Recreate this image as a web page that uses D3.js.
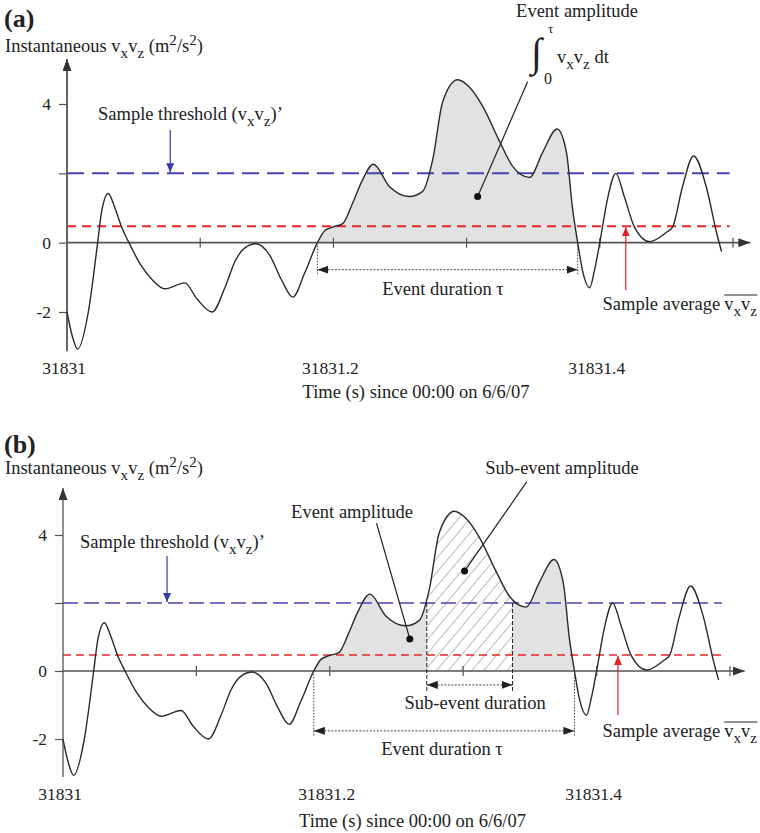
<!DOCTYPE html>
<html>
<head>
<meta charset="utf-8">
<script src="https://cdn.jsdelivr.net/npm/d3@7"></script>
<style>
    body { margin: 0; background: #fff; }
    svg text { font-family: "Liberation Serif", "Times New Roman", serif; fill: #222; }
</style>
</head>
<body>
<svg id="chart" width="760" height="833"></svg>
<script>
// ---- data (seconds after 31831 s, instantaneous vx*vz in m2/s2) ----
const timeBase = 31831;
const seconds = [0.000, 0.004, 0.008, 0.016, 0.023, 0.026, 0.031, 0.036, 0.041, 0.0465,
    0.055, 0.064, 0.0735, 0.0885, 0.0975, 0.109, 0.1185, 0.126, 0.1335, 0.1418,
    0.152, 0.161, 0.1695, 0.1785, 0.188, 0.1936, 0.1995, 0.207, 0.214, 0.221,
    0.230, 0.242, 0.257, 0.267, 0.2746, 0.282, 0.2933, 0.302, 0.312, 0.325,
    0.3346, 0.3473, 0.357, 0.368, 0.375, 0.3796, 0.3834, 0.387, 0.3924, 0.396,
    0.400, 0.406, 0.412, 0.4186, 0.426, 0.4374, 0.450, 0.4546, 0.462, 0.4704,
    0.480, 0.4876, 0.4914];
const flux = [-2.0, -2.7, -3.07, -2.0, 0.0, 0.9, 1.42, 1.0, 0.45, 0.0,
    -0.62, -1.07, -1.33, -1.16, -1.62, -2.0, -1.3, -0.55, -0.15, -0.03,
    -0.35, -1.07, -1.57, -0.87, 0.0, 0.35, 0.45, 0.55, 1.1, 1.74,
    2.26, 1.62, 1.33, 1.48, 2.4, 4.06, 4.7, 4.49, 3.94, 2.9,
    2.2, 1.88, 2.6, 3.28, 2.6, 0.96, 0.0, -0.8, -1.3, -0.8,
    0.0, 1.3, 2.0, 1.3, 0.45, 0.03, 0.3, 0.45, 1.6, 2.5,
    1.6, 0.3, -0.26];

const threshold = 2.0;
const sampleAverage = 0.47;
const eventSpan = [0.188, 0.3834];
const subEventSpan = [0.2727, 0.337];

const yTicks = [-2, 0, 2, 4];
const yTickLabels = ["-2", "0", "", "4"];
const xTicks = [0.1, 0.2, 0.3, 0.4, 0.5];
const xLabelTicks = [0, 0.2, 0.4];
const xLabelText = ["31831", "31831.2", "31831.4"];

const data = seconds.map((s, i) => ({t: s, v: flux[i]}));

const fs = 18.5; // annotation font size

// ---- layout ----
const panels = [
    {
        key: "a", label: "(a)", labelY: 27, titleY: 52,
        x: d3.scaleLinear().domain([0, 0.5]).range([67, 733]),
        y: d3.scaleLinear().domain([-2, 4]).range([312, 104]),
        yTop: 5.3, yBottom: -3.13, xEnd: 0.513, refEnd: 0.4975,
        axisStroke: 1.8, refStroke: 2, blueDash: "17,8", redDash: "9,6",
        durV: -0.78, durLabelY: 295, durLabelX: 443,
        tickLabelY: 374, xTitleY: 398,
        threshText: {x: 98, y: 120}, threshArrow: {t: 0.0775, top: 130},
        avgText: {x: 757, y: 310}, avgArrow: {t: 0.4195, bottom: 290},
        subEvent: false
    },
    {
        key: "b", label: "(b)", labelY: 453, titleY: 474,
        x: d3.scaleLinear().domain([0, 0.5]).range([63, 730]),
        y: d3.scaleLinear().domain([-2, 4]).range([739, 535]),
        yTop: 5.38, yBottom: -3.12, xEnd: 0.511, refEnd: 0.494,
        axisStroke: 1.3, refStroke: 1.3, blueDash: "15,6", redDash: "8,5",
        durV: -1.76, durLabelY: 755, durLabelX: 442,
        tickLabelY: 800, xTitleY: 827,
        threshText: {x: 80, y: 548}, threshArrow: {t: 0.078, top: 556},
        avgText: {x: 757, y: 737}, avgArrow: {t: 0.416, bottom: 715},
        subEvent: true, subV: -0.41
    }
];

const svg = d3.select("#chart");
const defs = svg.append("defs");

function addMarker(id, color, w, h) {
    defs.append("marker")
        .attr("id", id)
        .attr("viewBox", `0 0 ${w} ${h}`)
        .attr("refX", w).attr("refY", h / 2)
        .attr("markerWidth", w).attr("markerHeight", h)
        .attr("markerUnits", "userSpaceOnUse")
        .attr("orient", "auto-start-reverse")
        .append("path")
        .attr("d", `M0,0L${w},${h / 2}L0,${h}Z`)
        .attr("fill", color);
}
addMarker("arrAxis", "#333", 12, 9);
addMarker("arrBlue", "#3a3aa8", 9, 8);
addMarker("arrRed", "#e0202a", 9, 8);
addMarker("arrDur", "#222", 11, 8);

const hatch = defs.append("pattern")
    .attr("id", "hatch")
    .attr("patternUnits", "userSpaceOnUse")
    .attr("width", 9).attr("height", 9)
    .attr("patternTransform", "rotate(40)");
hatch.append("rect").attr("width", 9).attr("height", 9).attr("fill", "#fff");
hatch.append("line").attr("x1", 0).attr("y1", 0).attr("x2", 0).attr("y2", 9)
    .attr("stroke", "#777").attr("stroke-width", 1);

// text with sub/superscripts: parts = [[string, shift]] shift -1 sub, 1 sup
function richText(g, x, y, parts, size, anchor) {
    const text = g.append("text")
        .attr("x", x).attr("y", y)
        .attr("font-size", size)
        .attr("text-anchor", anchor || "start");
    let cur = 0;
    parts.forEach(p => {
        const target = p[1] === -1 ? size * 0.3 : p[1] === 1 ? -size * 0.4 : 0;
        const ts = text.append("tspan").text(p[0]).attr("dy", target - cur);
        if (p[1] !== 0) ts.attr("font-size", size * 0.82);
        cur = target;
    });
    return text;
}

const vxvz = [["v", 0], ["x", -1], ["v", 0], ["z", -1]];

panels.forEach(p => {
    const g = svg.append("g").attr("class", "panel-" + p.key);
    const x = p.x, y = p.y;

    const line = d3.line().curve(d3.curveMonotoneX)
        .x(d => x(d.t)).y(d => y(d.v));
    const area = d3.area().curve(d3.curveMonotoneX)
        .x(d => x(d.t)).y0(y(0)).y1(d => y(d.v));

    // event shading
    const clipId = "clipEvent" + p.key;
    defs.append("clipPath").attr("id", clipId).append("rect")
        .attr("x", x(eventSpan[0])).attr("y", 0)
        .attr("width", x(eventSpan[1]) - x(eventSpan[0])).attr("height", 833);
    g.append("path").datum(data)
        .attr("d", area)
        .attr("fill", "#e2e2e2")
        .attr("clip-path", `url(#${clipId})`);

    if (p.subEvent) {
        const subId = "clipSub" + p.key;
        defs.append("clipPath").attr("id", subId).append("rect")
            .attr("x", x(subEventSpan[0])).attr("y", 0)
            .attr("width", x(subEventSpan[1]) - x(subEventSpan[0])).attr("height", 833);
        g.append("path").datum(data)
            .attr("d", area)
            .attr("fill", "url(#hatch)")
            .attr("clip-path", `url(#${subId})`);
    }

    // reference lines
    g.append("line")
        .attr("x1", x(0)).attr("x2", x(p.refEnd))
        .attr("y1", y(threshold)).attr("y2", y(threshold))
        .attr("stroke", "#4444b4").attr("stroke-width", p.refStroke)
        .attr("stroke-dasharray", p.blueDash);
    g.append("line")
        .attr("x1", x(0)).attr("x2", x(p.refEnd))
        .attr("y1", y(sampleAverage)).attr("y2", y(sampleAverage))
        .attr("stroke", "#e8262e").attr("stroke-width", p.refStroke)
        .attr("stroke-dasharray", p.redDash);

    // axes
    const axisColor = "#555";
    g.append("line")
        .attr("x1", x(0)).attr("x2", x(p.xEnd))
        .attr("y1", y(0)).attr("y2", y(0))
        .attr("stroke", axisColor).attr("stroke-width", p.axisStroke)
        .attr("marker-end", "url(#arrAxis)");
    g.append("line")
        .attr("x1", x(0)).attr("x2", x(0))
        .attr("y1", y(p.yBottom)).attr("y2", y(p.yTop))
        .attr("stroke", axisColor).attr("stroke-width", p.axisStroke)
        .attr("marker-end", "url(#arrAxis)");

    const yAxis = d3.axisLeft(y)
        .tickValues(yTicks)
        .tickSize(8).tickPadding(8)
        .tickFormat((d, i) => yTickLabels[i]);
    const ya = g.append("g")
        .attr("transform", `translate(${x(0)},0)`)
        .call(yAxis);
    ya.select(".domain").remove();
    ya.selectAll("line").attr("stroke", axisColor).attr("stroke-width", 1.2);
    ya.selectAll("text")
        .attr("font-size", 17.5).attr("font-family", "Liberation Serif").attr("fill", "#222");

    g.selectAll(".xtick").data(xTicks).join("line")
        .attr("class", "xtick")
        .attr("x1", d => x(d)).attr("x2", d => x(d))
        .attr("y1", y(0) - 5).attr("y2", y(0) + 5)
        .attr("stroke", axisColor).attr("stroke-width", 1.2);

    g.selectAll(".xlab").data(xLabelTicks).join("text")
        .attr("class", "xlab")
        .attr("x", d => x(d) - 3).attr("y", p.tickLabelY)
        .attr("text-anchor", "middle").attr("font-size", 17.5)
        .text((d, i) => xLabelText[i]);

    g.append("text")
        .attr("x", x(0.262)).attr("y", p.xTitleY)
        .attr("text-anchor", "middle").attr("font-size", fs)
        .text("Time (s) since 00:00 on 6/6/07");

    // signal
    g.append("path").datum(data)
        .attr("d", line)
        .attr("fill", "none")
        .attr("stroke", "#2a2a2a").attr("stroke-width", 1.4);

    // panel label and y title
    g.append("text")
        .attr("x", 4).attr("y", p.labelY)
        .attr("font-size", 26).attr("font-weight", "bold")
        .text(p.label);
    richText(g, 5, p.titleY,
        [["Instantaneous ", 0]].concat(vxvz, [[" (m", 0], ["2", 1], ["/s", 0], ["2", 1], [")", 0]]), fs);

    // threshold annotation
    richText(g, p.threshText.x, p.threshText.y,
        [["Sample threshold (", 0]].concat(vxvz, [[")’", 0]]), fs);
    g.append("line")
        .attr("x1", x(p.threshArrow.t)).attr("x2", x(p.threshArrow.t))
        .attr("y1", p.threshArrow.top).attr("y2", y(threshold) - 1)
        .attr("stroke", "#3a3aa8").attr("stroke-width", 1.2)
        .attr("marker-end", "url(#arrBlue)");

    // average annotation
    const avg = g.append("g");
    const avgSym = richText(avg, p.avgText.x, p.avgText.y, vxvz, fs, "end");
    const bb = avgSym.node().getBBox();
    avg.append("line")
        .attr("x1", bb.x).attr("x2", bb.x + bb.width)
        .attr("y1", p.avgText.y - 15).attr("y2", p.avgText.y - 15)
        .attr("stroke", "#222").attr("stroke-width", 1.2);
    avg.append("text")
        .attr("x", bb.x - 4).attr("y", p.avgText.y)
        .attr("text-anchor", "end").attr("font-size", fs)
        .text("Sample average");
    g.append("line")
        .attr("x1", x(p.avgArrow.t)).attr("x2", x(p.avgArrow.t))
        .attr("y1", p.avgArrow.bottom).attr("y2", y(sampleAverage) + 1)
        .attr("stroke", "#e0202a").attr("stroke-width", 1.2)
        .attr("marker-end", "url(#arrRed)");

    // event duration
    [eventSpan[0], eventSpan[1]].forEach(t => {
        g.append("line")
            .attr("x1", x(t)).attr("x2", x(t))
            .attr("y1", y(0)).attr("y2", y(p.durV) + 6)
            .attr("stroke", "#444").attr("stroke-width", 1)
            .attr("stroke-dasharray", "1.5,1.5");
    });
    g.append("line")
        .attr("x1", x(eventSpan[0])).attr("x2", x(eventSpan[1]))
        .attr("y1", y(p.durV)).attr("y2", y(p.durV))
        .attr("stroke", "#444").attr("stroke-width", 1)
        .attr("stroke-dasharray", "2,1.5")
        .attr("marker-start", "url(#arrDur)")
        .attr("marker-end", "url(#arrDur)");
    richText(g, p.durLabelX, p.durLabelY, [["Event duration τ", 0]], fs, "middle");

    if (p.subEvent) {
        subEventSpan.forEach(t => {
            g.append("line")
                .attr("x1", x(t)).attr("x2", x(t))
                .attr("y1", y(threshold)).attr("y2", y(p.subV) + 6)
                .attr("stroke", "#222").attr("stroke-width", 1)
                .attr("stroke-dasharray", "4,2");
        });
        g.append("line")
            .attr("x1", x(subEventSpan[0])).attr("x2", x(subEventSpan[1]))
            .attr("y1", y(p.subV)).attr("y2", y(p.subV))
            .attr("stroke", "#444").attr("stroke-width", 1)
            .attr("stroke-dasharray", "2,1.5")
            .attr("marker-start", "url(#arrDur)")
            .attr("marker-end", "url(#arrDur)");
        g.append("text")
            .attr("x", x(0.309)).attr("y", 709)
            .attr("text-anchor", "middle").attr("font-size", fs)
            .text("Sub-event duration");
    }
});

// ---- amplitude call-outs ----
const pa = panels[0], pb = panels[1];
const ga = svg.select(".panel-a");
ga.append("text").attr("x", 577).attr("y", 17)
    .attr("text-anchor", "middle").attr("font-size", fs).text("Event amplitude");
ga.append("text").attr("x", 531).attr("y", 66)
    .attr("font-size", 40).attr("font-family", "DejaVu Serif").text("∫");
ga.append("text").attr("x", 548).attr("y", 33).attr("font-size", 13).text("τ");
ga.append("text").attr("x", 544).attr("y", 84).attr("font-size", 16).text("0");
richText(ga, 557, 63, vxvz.concat([["  dt", 0]]), fs);
ga.append("line")
    .attr("x1", pa.x(0.3083)).attr("y1", pa.y(1.33))
    .attr("x2", pa.x(0.3458)).attr("y2", pa.y(4.64))
    .attr("stroke", "#222").attr("stroke-width", 1.2);
ga.append("circle").attr("cx", pa.x(0.3083)).attr("cy", pa.y(1.33)).attr("r", 3.5).attr("fill", "#111");

const gb = svg.select(".panel-b");
gb.append("text").attr("x", 352).attr("y", 518)
    .attr("text-anchor", "middle").attr("font-size", fs).text("Event amplitude");
gb.append("line")
    .attr("x1", pb.x(0.26)).attr("y1", pb.y(0.94))
    .attr("x2", pb.x(0.235)).attr("y2", pb.y(4.35))
    .attr("stroke", "#222").attr("stroke-width", 1.2);
gb.append("circle").attr("cx", pb.x(0.26)).attr("cy", pb.y(0.94)).attr("r", 3.5).attr("fill", "#111");
gb.append("text").attr("x", 562).attr("y", 474)
    .attr("text-anchor", "middle").attr("font-size", fs).text("Sub-event amplitude");
gb.append("line")
    .attr("x1", pb.x(0.301)).attr("y1", pb.y(2.94))
    .attr("x2", pb.x(0.3476)).attr("y2", pb.y(5.56))
    .attr("stroke", "#222").attr("stroke-width", 1.2);
gb.append("circle").attr("cx", pb.x(0.301)).attr("cy", pb.y(2.94)).attr("r", 3.5).attr("fill", "#111");
</script>
</body>
</html>
